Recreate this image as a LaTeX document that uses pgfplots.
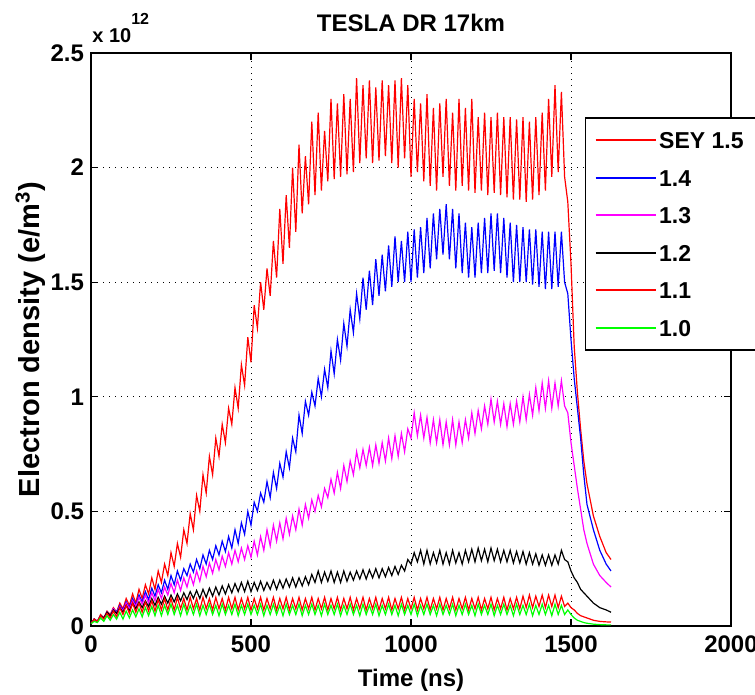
\documentclass[border=0pt]{standalone}
\usepackage{fontspec}
\setmainfont{Liberation Sans}
\usepackage{pgfplots}
\pgfplotsset{compat=1.18}
\usepackage{pgfplotstable}

\pgfplotstableread{
t a b c d e f
0 .01 .01 .01 .01 .01 .01
10 .03 .03 .03 .03 .03 .02
20 .02 .02 .02 .02 .02 .015
30 .05 .045 .045 .045 .045 .035
40 .035 .035 .035 .035 .03 .02
50 .065 .06 .06 .06 .055 .045
60 .05 .045 .045 .045 .035 .025
70 .08 .075 .075 .07 .065 .05
80 .06 .06 .055 .055 .04 .03
90 .10 .09 .085 .08 .08 .06
100 .075 .07 .065 .06 .05 .03
110 .12 .105 .10 .09 .09 .065
120 .09 .08 .075 .065 .055 .035
130 .14 .12 .11 .10 .10 .07
140 .10 .09 .085 .075 .06 .04
150 .16 .135 .125 .105 .10 .075
160 .12 .105 .095 .08 .06 .04
170 .18 .15 .135 .11 .105 .08
180 .14 .115 .10 .085 .065 .045
190 .21 .165 .145 .12 .11 .085
200 .16 .13 .11 .09 .065 .045
210 .24 .18 .16 .125 .115 .09
220 .19 .145 .12 .095 .07 .045
230 .27 .20 .17 .13 .12 .09
240 .22 .16 .135 .10 .07 .05
250 .32 .22 .185 .135 .12 .095
260 .26 .18 .145 .105 .07 .05
270 .36 .24 .20 .14 .125 .09
280 .30 .20 .155 .11 .075 .045
290 .42 .25 .21 .145 .12 .095
300 .36 .22 .17 .115 .07 .05
310 .49 .27 .225 .15 .125 .09
320 .42 .235 .18 .12 .075 .05
330 .57 .29 .24 .155 .12 .095
340 .50 .25 .195 .12 .07 .045
350 .66 .31 .26 .16 .125 .09
360 .58 .27 .215 .125 .075 .05
370 .74 .33 .275 .165 .12 .095
380 .66 .29 .23 .13 .07 .05
390 .82 .35 .29 .17 .125 .09
400 .74 .31 .245 .135 .075 .045
410 .88 .37 .305 .175 .12 .095
420 .80 .325 .26 .14 .07 .05
430 .95 .39 .32 .18 .125 .09
440 .88 .34 .27 .145 .075 .05
450 1.04 .42 .33 .185 .125 .095
460 .95 .36 .28 .15 .07 .045
470 1.14 .45 .34 .19 .12 .09
480 1.05 .40 .29 .15 .075 .05
490 1.26 .50 .35 .195 .125 .095
500 1.15 .44 .30 .15 .07 .05
510 1.40 .54 .37 .19 .12 .09
520 1.30 .50 .31 .155 .075 .05
530 1.50 .58 .39 .195 .125 .095
540 1.38 .54 .33 .155 .07 .045
550 1.56 .63 .42 .19 .12 .09
560 1.44 .56 .35 .16 .075 .05
570 1.68 .67 .44 .20 .125 .095
580 1.52 .60 .37 .16 .07 .05
590 1.82 .71 .45 .20 .12 .09
600 1.58 .65 .38 .165 .075 .045
610 1.88 .76 .47 .205 .125 .095
620 1.65 .69 .40 .17 .07 .05
630 2.00 .82 .48 .21 .12 .09
640 1.72 .76 .42 .17 .075 .05
650 2.10 .92 .51 .21 .125 .095
660 1.80 .84 .44 .175 .07 .045
670 2.05 .98 .53 .215 .12 .09
680 1.84 .92 .47 .18 .075 .05
690 2.20 1.02 .55 .225 .125 .095
700 1.88 .96 .50 .19 .07 .05
710 2.24 1.08 .57 .24 .12 .09
720 1.90 1.00 .52 .19 .075 .045
730 2.16 1.12 .60 .235 .125 .095
740 1.94 1.04 .56 .195 .07 .05
750 2.30 1.20 .64 .24 .12 .09
760 1.95 1.10 .58 .19 .075 .05
770 2.28 1.25 .67 .235 .125 .095
780 1.96 1.16 .60 .19 .07 .045
790 2.32 1.32 .70 .24 .12 .09
800 1.97 1.22 .63 .195 .075 .05
810 2.30 1.38 .72 .235 .125 .095
820 1.98 1.28 .66 .20 .07 .05
830 2.39 1.45 .76 .24 .12 .09
840 2.02 1.34 .69 .205 .075 .045
850 2.36 1.52 .77 .245 .125 .095
860 2.04 1.38 .70 .205 .07 .05
870 2.38 1.55 .78 .245 .12 .09
880 2.02 1.40 .70 .21 .075 .05
890 2.35 1.60 .79 .25 .125 .095
900 2.03 1.44 .71 .21 .07 .045
910 2.38 1.62 .80 .25 .12 .09
920 2.05 1.46 .72 .215 .075 .05
930 2.36 1.66 .82 .255 .125 .095
940 2.02 1.48 .73 .22 .07 .05
950 2.38 1.70 .83 .26 .12 .09
960 2.00 1.50 .74 .225 .075 .045
970 2.39 1.68 .84 .265 .125 .095
980 2.04 1.50 .76 .24 .07 .05
990 2.36 1.72 .86 .29 .12 .09
1000 1.96 1.50 .82 .27 .075 .05
1010 2.30 1.73 .93 .32 .125 .095
1020 1.98 1.52 .83 .28 .07 .045
1030 2.28 1.74 .92 .33 .12 .09
1040 1.94 1.54 .82 .27 .075 .05
1050 2.32 1.78 .91 .33 .125 .095
1060 1.92 1.56 .80 .27 .07 .05
1070 2.26 1.80 .90 .32 .12 .09
1080 1.90 1.60 .80 .275 .075 .045
1090 2.28 1.82 .90 .33 .125 .095
1100 1.96 1.62 .79 .27 .07 .05
1110 2.30 1.84 .89 .32 .12 .09
1120 1.92 1.60 .79 .27 .075 .05
1130 2.24 1.82 .90 .33 .125 .095
1140 1.90 1.56 .79 .275 .07 .045
1150 2.30 1.80 .89 .32 .12 .09
1160 1.92 1.54 .80 .27 .075 .05
1170 2.26 1.76 .90 .33 .125 .095
1180 1.90 1.52 .82 .28 .07 .05
1190 2.30 1.74 .93 .335 .12 .09
1200 1.89 1.52 .84 .28 .075 .045
1210 2.22 1.76 .94 .34 .125 .095
1220 1.90 1.54 .86 .285 .07 .05
1230 2.24 1.78 .96 .335 .12 .09
1240 1.88 1.54 .88 .28 .075 .05
1250 2.22 1.80 .99 .34 .125 .095
1260 1.89 1.55 .89 .285 .07 .045
1270 2.24 1.80 .98 .335 .12 .09
1280 1.88 1.54 .88 .28 .075 .05
1290 2.22 1.78 .97 .33 .125 .095
1300 1.87 1.52 .87 .28 .07 .05
1310 2.22 1.76 .97 .33 .12 .09
1320 1.86 1.50 .88 .275 .075 .045
1330 2.21 1.75 .98 .325 .125 .095
1340 1.86 1.50 .89 .275 .075 .05
1350 2.22 1.74 1.00 .325 .13 .09
1360 1.85 1.50 .90 .27 .08 .05
1370 2.20 1.73 1.01 .32 .135 .095
1380 1.86 1.49 .92 .27 .08 .045
1390 2.22 1.73 1.04 .315 .13 .09
1400 1.88 1.48 .94 .265 .085 .05
1410 2.24 1.72 1.06 .31 .135 .095
1420 1.90 1.47 .95 .265 .08 .05
1430 2.30 1.72 1.07 .31 .135 .09
1440 1.96 1.47 .95 .265 .085 .045
1450 2.36 1.72 1.06 .31 .135 .095
1460 1.98 1.48 .96 .27 .08 .05
1470 2.33 1.72 1.07 .33 .13 .09
1480 1.96 1.50 .96 .29 .085 .05
1490 1.85 1.45 .93 .28 .10 .07
1500 1.58 1.25 .80 .24 .08 .05
1510 1.22 1.08 .70 .21 .07 .035
1520 1.02 .95 .60 .19 .055 .025
1530 .86 .82 .51 .16 .045 .02
1540 .72 .66 .42 .145 .04 .015
1550 .62 .53 .36 .13 .035 .012
1570 .48 .42 .27 .10 .025 .008
1590 .39 .33 .22 .08 .02 .006
1610 .32 .27 .19 .07 .018 .005
1625 .29 .24 .17 .06 .017 .005
}\datatable

\definecolor{mred}{RGB}{255,0,0}
\definecolor{mblue}{RGB}{0,0,255}
\definecolor{mmag}{RGB}{255,0,255}
\definecolor{mgreen}{RGB}{0,255,0}

\begin{document}
\begin{tikzpicture}
\begin{axis}[
  at={(45.5pt,34.5pt)}, anchor=south west,
  scale only axis, width=320pt, height=286.5pt,
  xmin=0, xmax=2000, ymin=0, ymax=2.5,
  xtick={0,500,1000,1500,2000},
  ytick={0,0.5,1,1.5,2,2.5},
  scaled ticks=false,
  clip mode=individual,
  grid=major,
  major grid style={black, line width=0.45pt, dash pattern=on 0.5pt off 2.5pt},
  tick align=inside, major tick length=3.5pt,
  every tick/.style={black, line width=0.6pt},
  axis line style={black, line width=0.75pt},
  /pgf/number format/assume math mode=true,
  /pgf/number format/set thousands separator={},
  ticklabel style={font=\bfseries\fontsize{12}{14}\selectfont},
  xticklabel style={yshift=-1.5pt},
  xlabel={\bfseries\fontsize{12}{14}\selectfont Time (ns)},
  ylabel={\bfseries\fontsize{14.5}{16}\selectfont Electron density (e/m\textsuperscript{3})},
  title={\bfseries\fontsize{12}{14}\selectfont TESLA DR 17km},
  every axis x label/.style={at={(axis description cs:0.5,0)}, anchor=north, inner sep=0pt, yshift=-21.5pt},
  every axis y label/.style={at={(axis description cs:-0.0797,0.5)}, rotate=90, anchor=base, inner sep=0pt},
  every axis title/.style={at={(axis description cs:0.5,1)}, anchor=base, inner sep=0pt, yshift=10.5pt},
  legend cell align=left,
  legend image code/.code={\draw[#1, line width=0.8pt] (0pt,0pt) -- (30pt,0pt);},
  legend style={at={(axis description cs:0.772,0.888)}, anchor=north west,
    draw=black, line width=0.7pt, fill=white,
    font=\bfseries\fontsize{11.5}{13}\selectfont,
    inner xsep=4.5pt, inner ysep=5.5pt, row sep=7.35pt,
    nodes={inner sep=1.4pt, text height=8.6pt, text depth=0pt}},
]
\addplot[mred, line width=0.6pt] table[x=t, y=a] {\datatable};
\addlegendentry{SEY 1.5}
\addplot[mblue, line width=0.6pt] table[x=t, y=b] {\datatable};
\addlegendentry{1.4}
\addplot[mmag, line width=0.6pt] table[x=t, y=c] {\datatable};
\addlegendentry{1.3}
\addplot[black, line width=0.6pt] table[x=t, y=d] {\datatable};
\addlegendentry{1.2}
\addplot[mred, line width=0.6pt] table[x=t, y=e] {\datatable};
\addlegendentry{1.1}
\addplot[mgreen, line width=0.6pt] table[x=t, y=f] {\datatable};
\addlegendentry{1.0}
\node[anchor=base west, inner sep=0pt] at (axis description cs:0,1) [xshift=0.5pt, yshift=5.2pt]
  {\bfseries\fontsize{10}{12}\selectfont x 10\raisebox{9pt}{\fontsize{8}{9}\selectfont 12}};
\end{axis}
\pgfresetboundingbox
\useasboundingbox (0,0) rectangle (377.5pt,347.5pt);
\end{tikzpicture}
\end{document}
